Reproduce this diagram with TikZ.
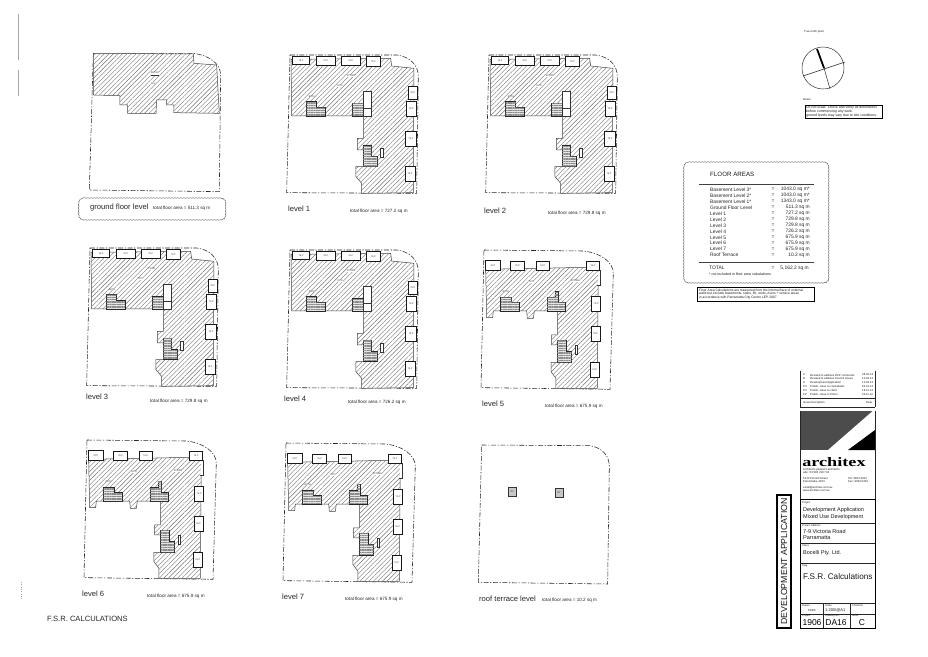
\documentclass[tikz,border=0pt]{standalone}
\usepackage{fontspec}
\setmainfont{Liberation Sans}
\newfontfamily\serifbold{Liberation Serif}
\usetikzlibrary{patterns.meta,decorations.pathmorphing}
\tikzset{
  bound/.style={draw=black!85,line width=.55pt,dash pattern=on 5pt off 1.6pt on 1.2pt off 1.6pt},
  hatched/.style={draw=black!75,line width=.5pt,fill=white,postaction={pattern={Lines[angle=45,distance=3.2pt,line width=.4pt]},pattern color=black!55}},
  balc/.style={draw=black!90,line width=.6pt,fill=white},
  corewhite/.style={draw=black!80,line width=.45pt,fill=white},
  corest/.style={draw=black!85,line width=.55pt,fill=black!10,postaction={pattern={Lines[angle=0,distance=1.7pt,line width=.25pt]},pattern color=black!45}},
  tinylab/.style={inner sep=0pt,text=black!80,font=\fontsize{2.4}{2.8}\selectfont},
  lvl/.style={inner sep=0pt,anchor=west,text=black!85,font=\fontsize{7.6}{9}\selectfont},
  tot/.style={inner sep=0pt,anchor=west,text=black!85,font=\fontsize{4.6}{5.5}\selectfont},
  cloud/.style={draw=black!70,line width=.4pt,decorate,decoration={snake,amplitude=.3pt,segment length=3pt}},
  row/.style={inner sep=0pt,text=black!85,font=\fontsize{4.9}{5.6}\selectfont},
  small/.style={inner sep=0pt,anchor=west,text=black!90,font=\fontsize{2.8}{3.4}\selectfont,align=left},
  tb/.style={inner sep=0pt,anchor=west,text=black!90,font=\fontsize{5.5}{6.2}\selectfont,align=left},
  tbh/.style={inner sep=0pt,anchor=west,text=black!90,font=\fontsize{2.6}{3}\selectfont},
  rule/.style={draw=black!85,line width=.5pt},
  noise/.style={draw=black!35,line width=.3pt},
}
\newcommand{\cloudbox}[4]{%
  \draw[cloud] ({#1+6},#2) -- ({#3-6},#2) .. controls ({#3-2},#2) and (#3,{#2+2}) .. (#3,{#2+6})
    -- (#3,{#4-6}) .. controls (#3,{#4-2}) and ({#3-2},#4) .. ({#3-6},#4)
    -- ({#1+6},#4) .. controls ({#1+2},#4) and (#1,{#4-2}) .. (#1,{#4-6})
    -- (#1,{#2+6}) .. controls (#1,{#2+2}) and ({#1+2},#2) .. ({#1+6},#2);}
% plan with the L-shaped floor, levels 1--4
\newcommand{\planA}[3]{%
\begin{scope}[shift={(#2,#3)},x=.3333pt,y=-.3333pt]
  \draw[bound] (60,45) -- (380,45) .. controls (420,50) and (445,75) .. (445,110) -- (440,460) -- (50,458) -- cycle;
  \draw[hatched] (63,58) -- (362,55) -- (365,78) -- (432,85) -- (430,458) -- (275,460) -- (275,430) -- (258,410) -- (258,380) -- (280,380) -- (280,330) -- (262,330) -- (262,295) -- (280,295) -- (280,228) -- (65,228) -- cycle;
  \foreach \xa/\ya/\xb/\yb [count=\n] in {68/50/118/72,140/50/195/76,215/50/270/76,290/50/330/78,415/140/442/178,408/185/440/230,406/275/440/318,405/380/435/425}{
    \draw[balc] (\xa,\ya) rectangle (\xb,\yb);
    \node[tinylab] (#1b\n) at ({(\xa+\xb)/2},{(\ya+\yb)/2}) {76.P};
  }
  \draw[corest] (110,185) -- (140,185) -- (140,203) -- (165,203) -- (165,228) -- (110,228) -- cycle;
  \draw[corest] (248,190) -- (280,190) -- (280,228) -- (248,228) -- cycle;
  \draw[corewhite] (280,155) rectangle (305,205);
  \draw[corewhite] (280,205) rectangle (305,228);
  \draw[corest] (280,315) -- (305,315) -- (305,350) -- (322,350) -- (322,380) -- (280,380) -- cycle;
  \draw[corewhite] (330,325) rectangle (340,352);
  \node[tinylab,fill=white] (#1a) at (243,107) {STORE};
  \node[tinylab,fill=white] (#1c) at (210,137) {1979};
  \node[tinylab,fill=white] (#1d) at (126,170) {BATH};
\end{scope}}
% plan with the narrower floor, levels 5--7
\newcommand{\planB}[3]{%
\begin{scope}[shift={(#2,#3)},x=.3333pt,y=-.3333pt]
  \draw[bound] (42,30) -- (340,33) .. controls (390,38) and (430,65) .. (430,100) -- (420,448) -- (33,443) -- cycle;
  \draw[hatched] (47,88) -- (350,82) -- (385,92) -- (382,445) -- (258,445) -- (258,415) -- (243,395) -- (243,367) -- (262,367) -- (262,315) -- (245,315) -- (245,285) -- (262,285) -- (262,213) -- (193,213) -- (190,235) -- (172,235) -- (170,213) -- (70,213) -- (68,233) -- (50,233) -- cycle;
  \draw[corewhite] (385,92) -- (392,92) -- (392,135) -- (382,135);
  \foreach \xa/\ya/\xb/\yb [count=\n] in {47/62/90/90,122/65/163/90,198/65/238/92,350/65/388/92,365/170/392/215,363/260/390/305,360/368/388/412}{
    \draw[balc] (\xa,\ya) rectangle (\xb,\yb);
    \node[tinylab] (#1b\n) at ({(\xa+\xb)/2},{(\ya+\yb)/2}) {76.P};
  }
  \draw[corest] (92,172) -- (125,172) -- (125,187) -- (148,187) -- (148,213) -- (92,213) -- cycle;
  \draw[corest] (232,172) -- (255,172) -- (255,153) -- (265,153) -- (265,187) -- (285,187) -- (285,213) -- (232,213) -- cycle;
  \draw[corest] (262,300) -- (288,300) -- (288,335) -- (305,335) -- (305,367) -- (262,367) -- cycle;
  \draw[corewhite] (316,315) rectangle (322,342);
  \node[tinylab,fill=white] (#1a) at (315,123) {STORE};
  \node[tinylab,fill=white] (#1c) at (183,125) {1979};
  \node[tinylab,fill=white] (#1d) at (107,155) {BATH};
\end{scope}}
\begin{document}
\begin{tikzpicture}[x=1pt,y=-1pt]
\useasboundingbox (0,0) rectangle (928,656);
\fill[white] (0,0) rectangle (928,656);
% scan marks in the margin
\draw[noise] (18,14) -- (18,60) (18,70) -- (18,96);
\draw[noise,dotted] (21,582) -- (21,600);
% ground floor
\begin{scope}[shift={(60,30)},x=.3333pt,y=-.3333pt]
  \draw[bound] (100,70) -- (400,70) .. controls (445,75) and (482,100) .. (482,135) -- (478,485) -- (88,480) -- cycle;
  \draw[hatched] (100,70) -- (400,72) -- (402,100) -- (470,105) -- (478,250) -- (342,248) -- (342,225) -- (320,225) -- (320,210) -- (290,210) -- (288,250) -- (203,250) -- (203,225) -- (180,225) -- (180,197) -- (100,195) -- cycle;
  \node[tinylab,fill=white] (ga) at (285,132) {\underline{RETAIL}};
  \node[tinylab,fill=white] (gb) at (282,160) {511.3};
\end{scope}
\planA{l1}{270}{40}
\planA{l2}{469}{40}
\planA{l3}{70}{233}
\planA{l4}{270}{235}
\planB{l5}{470}{240}
\planB{l6}{73}{430}
\planB{l7}{272}{433}
% roof terrace
\begin{scope}[shift={(470,435)},x=.3333pt,y=-.3333pt]
  \draw[bound] (35,30) -- (360,32) .. controls (395,38) and (418,60) .. (418,95) -- (413,447) -- (25,442) -- cycle;
  \foreach \xa/\ya [count=\n] in {115/158,255/160}{
    \draw[draw=black!80,line width=.7pt,fill=black!22] (\xa,\ya) rectangle ++(24,26);
    \node[tinylab] (rbox\n) at (\xa+12,\ya+13) {RF};
  }
\end{scope}
% labels
\cloudbox{78}{198}{225}{220}
\node[lvl] (t0) at (90,208) {ground floor level};
\node[tot] (a0) at (153,208) {total floor area = 511.3 sq m};
\node[lvl] (t1) at (288,209) {level 1};
\node[tot] (a1) at (350,211) {total floor area = 727.2 sq m};
\node[lvl] (t2) at (484,211) {level 2};
\node[tot] (a2) at (548,213) {total floor area = 729.8 sq m};
\node[lvl] (t3) at (86,397) {level 3};
\node[tot] (a3) at (150,401) {total floor area = 729.8 sq m};
\node[lvl] (t4) at (284,399) {level 4};
\node[tot] (a4) at (348,402) {total floor area = 726.2 sq m};
\node[lvl] (t5) at (482,404) {level 5};
\node[tot] (a5) at (545,406) {total floor area = 675.9 sq m};
\node[lvl] (t6) at (82,594) {level 6};
\node[tot] (a6) at (147,596) {total floor area = 675.9 sq m};
\node[lvl] (t7) at (282,597) {level 7};
\node[tot] (a7) at (345,599) {total floor area = 675.9 sq m};
\node[lvl] (t8) at (479,599) {roof terrace level};
\node[tot] (a8) at (542,600) {total floor area = 10.2 sq m};
\node[lvl] (fsr) at (47,619) {F.S.R. CALCULATIONS};
% north point
\node[small] (nt) at (804,32) {True north point};
\draw[black!80,line width=.5pt] (823,68) circle (21);
\draw[black!85,line width=.5pt] (803,76) -- (845,62) (824,68) -- (830,89);
\draw[black,line width=1.8pt] (817,49) -- (824,68);
\node[small] (nn) at (803,100) {Notes:};
\draw[black,line width=.5pt] (805,105) rectangle (882,118);
\node[small,font=\fontsize{3.5}{3.9}\selectfont] (nb) at (806,111.5) {Do not scale. Check and verify all dimensions\\before commencing any work.\\ground levels may vary due to site conditions.};
% floor areas table
\cloudbox{683}{162}{828}{283}
\node[inner sep=0pt,anchor=west,text=black!90,font=\fontsize{6.2}{7.5}\selectfont] (fa) at (710,174) {FLOOR AREAS};
\draw[black!75,line width=.8pt] (699,184) -- (814,184);
\foreach \na/\va [count=\i] in {Basement Level 3*/1043.0 sq m*,Basement Level 2*/1043.0 sq m*,Basement Level 1*/1343.0 sq m*,Ground Floor Level/511.3 sq m,Level 1/727.2 sq m,Level 2/729.8 sq m,Level 3/729.8 sq m,Level 4/726.2 sq m,Level 5/675.9 sq m,Level 6/675.9 sq m,Level 7/675.9 sq m,Roof Terrace/10.2 sq m}{
  \node[row,anchor=west] (fn\i) at (710,{189.5+(\i-1)*5.97}) {\na};
  \node[row] (fe\i) at (773,{189.5+(\i-1)*5.97}) {=};
  \node[row,anchor=east] (fv\i) at (810,{189.5+(\i-1)*5.97}) {\va};
}
\draw[black!75,line width=.8pt] (699,262) -- (814,262);
\node[row,anchor=west] (tot) at (709,268) {TOTAL};
\node[row] (tote) at (773,268) {=};
\node[row,anchor=east] (totv) at (809,268) {5,162.2 sq m};
\node[small,font=\fontsize{3.6}{4.2}\selectfont] (fn) at (709,274) {* not included in floor area calculations};
\draw[black,line width=.5pt] (697,287) rectangle (814,301);
\node[small,font=\fontsize{3.3}{3.8}\selectfont] (fbox) at (699,294) {Floor Area Calculations are measured from the internal face of external\\walls but exclude basements, stairs, lift, voids, risers + service areas\\in accordance with Parramatta City Centre LEP 2007};
% revisions
\foreach \r/\d/\e [count=\i] in {C/Revised to address DCP comments/08.03.13,B/Revised to address Council issues/10.04.13,A/Development Application/13.03.13,P4/Prelim. issue to consultants/04.01.13,P3/Prelim. issue to client/18.12.12,P2/Prelim. issue to Client/23.11.12}{
  \node[small] (rr\i) at (803,{375+(\i-1)*3.9}) {\r};
  \node[small] (rd\i) at (810,{375+(\i-1)*3.9}) {\d};
  \node[small] (re\i) at (862,{375+(\i-1)*3.9}) {\e};
}
\draw[rule] (800,398) -- (875,398);
\node[small] (is) at (803,403) {Issue Description};
\node[small] (dt) at (866,403) {Date};
\draw[rule] (800,371) -- (800,407) (875,371) -- (875,407) (800,407) -- (875,407);
% logo
\fill[black!70] (800,411) rectangle (875,450);
\fill[white] (828,450) -- (875,409) -- (875,450) -- cycle;
\fill[black] (848,450) -- (875,430) -- (875,450) -- cycle;
\node[inner sep=0pt,anchor=west,xscale=1.4,font=\serifbold\bfseries\fontsize{13}{14}\selectfont] (arc) at (802,462) {architex};
\node[small] (ad1) at (803,471) {Architects planners architects\\abn: 53 583 218 743};
\node[small] (ad2) at (803,480) {53 O'Connell Street\\Parramatta, 2150};
\node[small] (ad3) at (848,480) {Tel: 9633 9333\\Fax: 9633 9304};
\node[small] (ad4) at (803,489) {email@architex.com.au\\www.architex.com.au};
\draw[rule] (800,411) -- (800,499) (875,411) -- (875,499);
% title block
\draw[black,line width=1.1pt] (777,495) rectangle (791,628);
\node[rotate=90,inner sep=0pt,text=black!90,font=\fontsize{8.8}{10}\selectfont] (da) at (784,561.5) {DEVELOPMENT APPLICATION};
\draw[black,line width=.7pt] (800,499) rectangle (875,628);
\draw[rule] (800,523) -- (875,523) (800,543) -- (875,543) (800,563) -- (875,563) (800,603) -- (875,603) (800,614) -- (875,614);
\draw[rule] (823,603) -- (823,628) (850,603) -- (850,628);
\node[tbh] (h1) at (802,503) {Project};
\node[tb] (p) at (803,513.5) {Development Application\\Mixed Use Development};
\node[tbh] (h2) at (802,525.5) {Project Address};
\node[tb] (pa) at (803,534.5) {7-9 Victoria Road\\Parramatta};
\node[tbh] (h3) at (802,546) {Client};
\node[tb] (cl) at (803,553) {Bocelli Pty. Ltd.};
\node[tbh] (h4) at (802,566) {Dwg};
\node[tb,font=\fontsize{8.2}{9.5}\selectfont] (dw) at (803,577) {F.S.R. Calculations};
\node[tbh] (h5) at (802,606) {Drawn};
\node[tbh] (h6) at (825,606) {Scale};
\node[tbh] (h7) at (852,606) {Checked};
\node[small] (dr) at (808,610.5) {PKBS};
\node[small,font=\fontsize{4}{5}\selectfont] (sc) at (825,610.5) {1:200/@A1};
\node[tbh] (h8) at (802,616) {Project};
\node[tbh] (h9) at (825,616) {Drawing No.};
\node[tbh] (h10) at (852,616) {Issue};
\node[inner sep=0pt,font=\fontsize{8.5}{10}\selectfont] (j1) at (812,622.5) {1906};
\node[inner sep=0pt,font=\fontsize{8.5}{10}\selectfont] (j2) at (836,622.5) {DA16};
\node[inner sep=0pt,font=\fontsize{8.5}{10}\selectfont] (j3) at (862,622.5) {C};
\end{tikzpicture}
\end{document}
